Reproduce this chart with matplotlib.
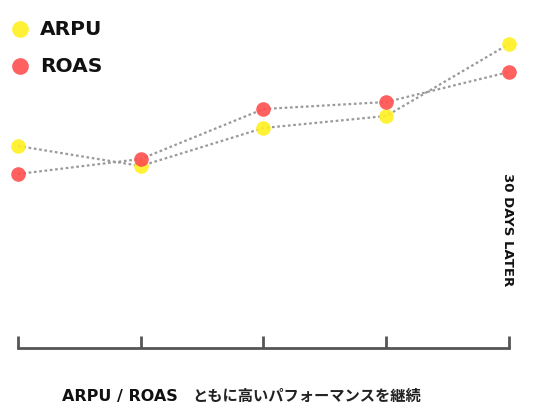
import matplotlib
matplotlib.use("Agg")
import matplotlib.pyplot as plt

# values (height above the baseline, in pixels)
days = [0, 1, 2, 3, 4]
arpu = [202, 182, 220, 232, 304]
roas = [174, 189, 239, 246, 276]
series_names = ["ARPU", "ROAS"]
series_colors = ["#fff01f", "#ff4f4f"]

fig = plt.figure(figsize=(5.4, 4.05), dpi=100)
ax = fig.add_axes([0, 0, 1, 1])
ax.set_xlim(-0.147, 4.253)
ax.set_ylim(-57, 348)

for vals, col, z in [(arpu, series_colors[0], 3), (roas, series_colors[1], 4)]:
    ax.plot(days, vals, ls=(0, (1.2, 1.2)), color="#9a9a9a", lw=1.6, zorder=2)
    ax.plot(days, vals, "o", ms=10.5, color=col, alpha=0.9, mec="none", zorder=z)

# bottom axis with ticks pointing up
for s in ["top", "right", "left"]:
    ax.spines[s].set_visible(False)
ax.spines["bottom"].set_position(("data", 0))
ax.spines["bottom"].set_bounds(0, 4)
ax.spines["bottom"].set_color("#555555")
ax.spines["bottom"].set_linewidth(2)
ax.set_xticks(days)
ax.set_xticklabels([])
ax.tick_params(axis="x", direction="in", length=9, width=2, color="#555555")
ax.set_yticks([])

# legend
for i, (name, col) in enumerate(zip(series_names, series_colors)):
    yy = 0.928 - i * 0.092
    ax.plot([20 / 540], [yy], "o", ms=12, color=col, alpha=0.9, mec="none",
            transform=fig.transFigure, clip_on=False)
    fig.text(40 / 540, yy, name, fontsize=14.5, fontweight="bold", color="#111111",
             va="center", ha="left")

ax.text(3.985, 118, "30 DAYS LATER", rotation=-90, fontsize=9.5, fontweight="bold",
        color="#111111", ha="center", va="center")

fig.text(178 / 540, 1 - 396 / 405, "ARPU / ROAS", fontsize=11.5, fontweight="bold",
         color="#111111", ha="right", va="center")
fig.text(192 / 540, 1 - 396 / 405, "ともに高いパフォーマンスを継続", fontsize=11,
         family=["Noto Sans CJK JP", "DejaVu Sans"], fontweight="bold",
         color="#222222", ha="left", va="center")

fig.savefig("out.png", dpi=100)
